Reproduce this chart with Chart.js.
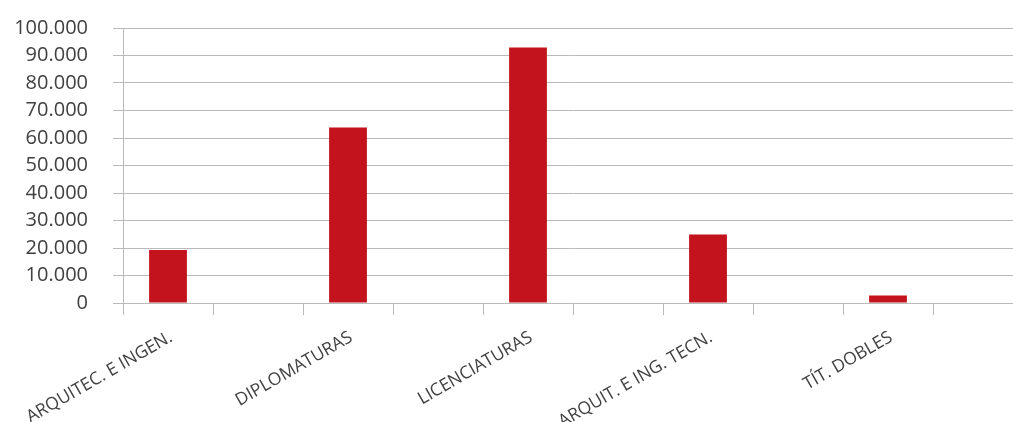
<!DOCTYPE html>
<html lang="es">
<head>
<meta charset="utf-8">
<script src="https://cdn.jsdelivr.net/npm/chart.js@4.4.0/dist/chart.umd.min.js"></script>
<style>
  html, body { margin: 0; padding: 0; background: #fff; overflow: hidden; }
  #caja { width: 1023px; height: 422px; }
</style>
</head>
<body>
<div id="caja"><canvas id="chart" width="1023" height="422"></canvas></div>
<script>
// categorias (las columnas vacias dejan el hueco entre barras)
let categorias = ['ARQUITEC. E INGEN.', '', 'DIPLOMATURAS', '', 'LICENCIATURAS', '', 'ARQUIT. E ING. TECN.', '', 'TÍT. DOBLES', ''];
let alumnos = [19300, null, 63800, null, 92900, null, 24900, null, 2700, null];
let ticksY = [0, 10000, 20000, 30000, 40000, 50000, 60000, 70000, 80000, 90000, 100000];

let gris = '#BABABA';

// separador de miles con punto
let formato = (v) => String(v).replace(/\B(?=(\d{3})+(?!\d))/g, '.');

var ctx = document.getElementById('chart').getContext('2d');
var chart = new Chart(ctx, {
  type: 'bar',
  data: {
    labels: categorias,
    datasets: [{
      label: 'Alumnos',
      data: alumnos,
      backgroundColor: '#C3131C',
      categoryPercentage: 1,
      barPercentage: 0.42
    }]
  },
  options: {
    responsive: false,
    animation: false,
    layout: { padding: { top: 28, left: 0, right: 0, bottom: 0 } },
    plugins: { legend: { display: false }, tooltip: { enabled: false } },
    scales: {
      x: {
        grid: { offset: true, drawOnChartArea: false, color: gris, tickLength: 12, lineWidth: 1 },
        border: { display: true, color: gris, width: 1 },
        ticks: {
          autoSkip: false, minRotation: 30, maxRotation: 30, padding: 12, labelOffset: 3,
          color: '#404040', font: { family: 'Open Sans', size: 17.5 }
        },
        afterFit: (s) => { s.height = 119; }
      },
      y: {
        min: 0, max: 100000,
        afterBuildTicks: (s) => { s.ticks = ticksY.map(v => ({ value: v })); },
        grid: { color: gris, tickLength: 10, lineWidth: 1 },
        border: { display: true, color: gris, width: 1 },
        ticks: {
          autoSkip: false, padding: 25, color: '#404040', font: { family: 'Open Sans', size: 20 },
          callback: (v) => formato(v)
        },
        afterFit: (s) => { s.width = 123; s.paddingTop = 0; s.paddingBottom = 0; }
      }
    }
  }
});
</script>
</body>
</html>
